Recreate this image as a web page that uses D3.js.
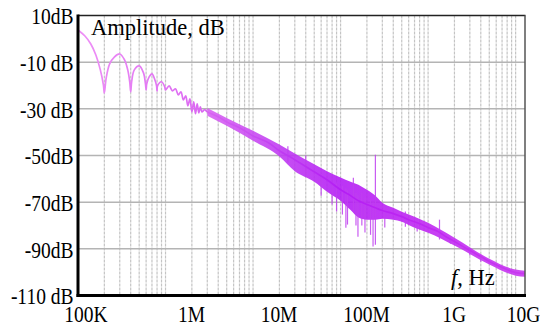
<!DOCTYPE html>
<html>
<head>
<meta charset="utf-8">
<script src="https://cdn.jsdelivr.net/npm/d3@7"></script>
<style>
  html, body { margin: 0; padding: 0; background: #fff; }
  svg { display: block; }
</style>
</head>
<body>
<svg id="chart" width="540" height="327"></svg>
<script>
// Spectrum trace: frequency (Hz) and amplitude (dB)
const freqHz = [
  1.0e5, 1.2e5, 1.4e5, 1.6e5, 1.8e5, 1.95e5, 2.0e5, 2.1e5, 2.3e5, 2.6e5,
  3.0e5, 3.4e5, 3.7e5, 3.9e5, 4.0e5, 4.1e5, 4.4e5, 5.0e5, 5.6e5, 5.9e5,
  6.0e5, 6.1e5, 6.5e5, 7.0e5, 7.5e5, 7.9e5, 8.0e5, 8.1e5, 9.0e5, 9.8e5,
  1.0e6, 1.1e6, 1.2e6, 1.3e6, 1.4e6, 1.5e6, 1.6e6, 1.7e6, 1.8e6, 1.9e6,
  2.0e6, 2.1e6, 2.2e6, 2.3e6, 2.4e6, 2.5e6, 2.6e6, 2.8e6, 3.0e6, 4.0e6,
  5.0e6, 7.0e6, 1.0e7, 1.5e7, 2.0e7, 3.0e7, 5.0e7, 7.0e7, 1.0e8, 1.3e8,
  1.6e8, 2.0e8, 2.5e8, 3.0e8, 4.0e8, 5.0e8, 6.0e8, 8.0e8, 1.0e9, 1.3e9,
  1.6e9, 2.0e9, 3.0e9, 4.0e9, 5.0e9, 7.0e9, 1.0e10, 1.28e10
];
const amplitudeDb = [
  3.8, 1.2, -2.2, -6.9, -13.3, -19.7, -23.2, -16.7, -10.7, -7.8,
  -6.5, -9.0, -13.3, -18.4, -22.7, -18.4, -13.3, -11.6, -14.6, -19.3,
  -21.9, -19.3, -16.3, -15.0, -17.2, -20.2, -22.3, -20.2, -18.4, -20.6,
  -21.9, -20.2, -22.3, -21.4, -24.0, -22.7, -26.2, -24.4, -28.7, -25.7,
  -31.3, -27.0, -32.1, -27.9, -31.7, -29.1, -31.3, -30.4, -31.3, -33.4,
  -35.6, -38.1, -41.6, -44.5, -48.0, -51.8, -57.0, -60.4, -64.7, -67.2,
  -69.4, -71.0, -72.4, -73.6, -74.9, -76.2, -77.5, -79.2, -80.9, -82.6,
  -84.8, -86.9, -90.7, -93.3, -95.4, -98.0, -100.2, -100.6
];

// Spread of the noisy trace (upper / lower envelope, dB)
const bandFreqHz = [
  3e6, 5e6, 1e7, 2e7, 3e7, 5e7, 7e7, 1e8, 1.3e8, 1.6e8,
  2e8, 2.5e8, 3e8, 4e8, 5e8, 7e8, 1e9, 2e9, 5e9, 1e10, 1.28e10
];
const bandUpperDb = [
  -29.6, -33.9, -39.4, -45.3, -49.1, -53.8, -56.8, -59.4, -61.2, -62.5,
  -64.7, -67.2, -70.2, -72.4, -74.1, -76.2, -78.8, -85.2, -94.2, -98.9, -99.4
];
const bandLowerDb = [
  -33.0, -37.3, -43.7, -50.4, -56.7, -61.2, -65.5, -69.4, -73.4, -76.6,
  -77.5, -77.5, -77.1, -77.5, -78.4, -81.0, -83.1, -88.6, -96.7, -101.5, -102.0
];

// Isolated spikes (frequency, top dB, bottom dB)
const spikeFreqHz = [
  2.5e7, 4e7, 6e7, 8e7, 9e7, 1.05e8, 1.15e8, 1.2e8, 1.4e8, 1.5e8,
  1.58e8, 1.75e8, 1.9e8, 2.2e8, 2.35e8, 2.5e8, 3.2e8, 5.5e8, 7.5e8, 1.35e9,
  1.8e9, 3e9, 4e9
];
const spikeTopDb = [
  -46, -50, -58, -62, -62, -63, -64, -65, -59.5, -66,
  -67, -66, -68, -69, -70, -49.7, -72, -74, -77, -77.5,
  -85, -90, -92.5
];
const spikeBotDb = [
  -53, -58.5, -67.2, -71, -74, -75.3, -81, -79.6, -74, -80,
  -84.8, -80, -83, -84, -89, -88.2, -80.9, -80.5, -82.6, -86,
  -87.8, -92.9, -95.5
];

// Axis ticks
const xTickValues = [1e5, 1e6, 1e7, 1e8, 1e9, 1e10];
const xTickLabels = ["100K", "1M", "10M", "100M", "1G", "10G"];
const yTickValues = [10, -10, -30, -50, -70, -90, -110];
const yTickLabels = ["10dB", "-10 dB", "-30 dB", "-50dB", "-70dB", "-90dB", "-110 dB"];
const yGridValues = [-10, -30, -50, -70, -90];

const serif = "'Liberation Serif', 'Times New Roman', 'DejaVu Serif', serif";
const svg = d3.select("#chart").attr("font-family", serif);
const plotL = 78, plotR = 525, plotT = 15.5, plotB = 295.5;

const x = d3.scaleLog().domain([1e5, 1.28e10]).range([plotL, plotR]);
const y = d3.scaleLinear().domain([-110, 10]).range([plotB, plotT]);

// Colour ramp along frequency: pale pink lobes turning violet in the dense part
const defs = svg.append("defs");
const grad = defs.append("linearGradient")
  .attr("id", "traceGrad").attr("gradientUnits", "userSpaceOnUse")
  .attr("x1", x(1e5)).attr("x2", x(1.28e10)).attr("y1", 0).attr("y2", 0);
[[1e5, "#ee90f6"], [2e6, "#dd6cf2"], [2e7, "#c03cf2"], [1e8, "#b41ef4"], [1e9, "#c028f2"], [1.28e10, "#c838f0"]]
  .forEach(([f, c]) => grad.append("stop")
    .attr("offset", (x(f) - x(1e5)) / (x(1.28e10) - x(1e5)))
    .attr("stop-color", c));

// Vertical log grid (1..9 in each decade)
const gridFreqs = [];
for (let d = 1e5; d <= 1e10; d *= 10) {
  for (let k = 1; k <= 9; k++) {
    const f = d * k;
    if (f > 1e5 && f < 1.28e10) gridFreqs.push(f);
  }
}
svg.append("g").selectAll("line").data(gridFreqs).join("line")
  .attr("x1", d => x(d)).attr("x2", d => x(d))
  .attr("y1", plotT).attr("y2", plotB)
  .attr("stroke", "#c4c4c4").attr("stroke-width", 1.2)
  .attr("stroke-dasharray", "3,1");

// Horizontal grid
svg.append("g").selectAll("line").data(yGridValues).join("line")
  .attr("x1", plotL).attr("x2", plotR)
  .attr("y1", d => y(d)).attr("y2", d => y(d))
  .attr("stroke", "#b4b4b4").attr("stroke-width", 1.5);

// Noise band
const band = d3.area()
  .x((d, i) => x(bandFreqHz[i]))
  .y0((d, i) => y(bandLowerDb[i]))
  .y1((d, i) => y(bandUpperDb[i]))
  .curve(d3.curveMonotoneX);
svg.append("path").datum(bandFreqHz)
  .attr("d", band)
  .attr("fill", "url(#traceGrad)").attr("opacity", 0.9);

// Spikes
svg.append("g").selectAll("line").data(spikeFreqHz).join("line")
  .attr("x1", d => x(d)).attr("x2", d => x(d))
  .attr("y1", (d, i) => y(spikeTopDb[i])).attr("y2", (d, i) => y(spikeBotDb[i]))
  .attr("stroke", "#c040f0").attr("stroke-width", 1.2).attr("opacity", 0.85);

// Main trace
const line = d3.line()
  .x((d, i) => x(freqHz[i]))
  .y((d, i) => y(amplitudeDb[i]))
  .curve(d3.curveCatmullRom.alpha(0.5));
svg.append("path").datum(freqHz)
  .attr("d", line)
  .attr("fill", "none")
  .attr("stroke", "url(#traceGrad)").attr("stroke-width", 1.7);

// Frame: thin top/right, heavy left/bottom axes
svg.append("line").attr("x1", plotL).attr("x2", plotR + 0.5).attr("y1", plotT).attr("y2", plotT)
  .attr("stroke", "#222").attr("stroke-width", 1.5);
svg.append("line").attr("x1", plotR).attr("x2", plotR).attr("y1", plotT).attr("y2", plotB)
  .attr("stroke", "#555").attr("stroke-width", 1.5);
svg.append("line").attr("x1", plotL).attr("x2", plotL).attr("y1", plotT - 1).attr("y2", plotB + 1.5)
  .attr("stroke", "#000").attr("stroke-width", 3);
svg.append("line").attr("x1", plotL - 1.5).attr("x2", plotR + 1).attr("y1", plotB).attr("y2", plotB)
  .attr("stroke", "#000").attr("stroke-width", 3);

// Y tick labels
svg.append("g").selectAll("g").data(yTickValues).join("g")
  .attr("transform", d => `translate(73.5,${y(d) + 1})scale(1,1.15)`)
  .append("text")
  .attr("font-family", serif).attr("fill", "#000")
  .attr("text-anchor", "end").attr("dy", "0.35em")
  .attr("font-size", 19.5)
  .text((d, i) => yTickLabels[i]);

// X tick labels, set just right of each decade line
const lastX = xTickValues.length - 1;
svg.append("g").selectAll("g").data(xTickValues).join("g")
  .attr("transform", (d, i) => `translate(${x(d) + (i === 0 || i === lastX ? 8 : 26)},314)scale(1,1.15)`)
  .append("text")
  .attr("font-family", serif).attr("fill", "#000")
  .attr("text-anchor", "middle").attr("dy", "0.35em")
  .attr("font-size", 19.5)
  .text((d, i) => xTickLabels[i]);

// Axis titles
svg.append("text").attr("x", 91).attr("y", 35)
  .attr("font-family", serif).attr("fill", "#000")
  .attr("font-size", 22.5).text("Amplitude, dB");
const ft = svg.append("text").attr("x", 451).attr("y", 285)
  .attr("font-family", serif).attr("fill", "#000").attr("font-size", 22.5);
ft.append("tspan").attr("font-style", "italic").text("f");
ft.append("tspan").text(", Hz");
</script>
</body>
</html>
